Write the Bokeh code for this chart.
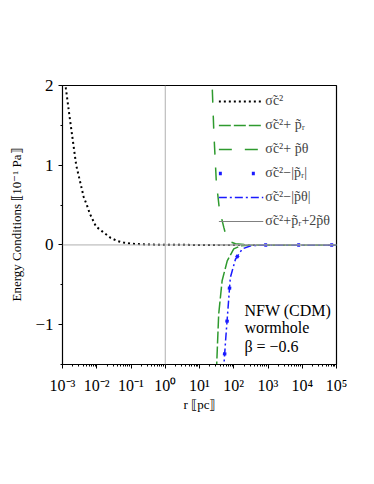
import numpy as np
from bokeh.plotting import figure
from bokeh.models import Span, Label, FixedTicker, CustomJSTickFormatter, Legend, LegendItem
from bokeh.embed import file_html
from bokeh.resources import INLINE

# ---- data (log10 r [pc], value [10^-1 Pa]) ----
sigma_logr = [-3.0, -2.9, -2.8, -2.67, -2.6, -2.49, -2.38, -2.28, -2.2, -2.02, -1.84, -1.6, -1.4, -1.22, -1.0, -0.5, 0.0, 1.0, 2.0, 3.0, 4.0, 5.0]
sigma_val = [2.35, 1.96, 1.63, 1.22, 1.0, 0.80, 0.60, 0.49, 0.39, 0.23, 0.17, 0.09, 0.05, 0.03, 0.015, 0.005, 0.002, 0.0, 0.0, 0.0, 0.0, 0.0]

ptheta_logr = [1.33, 1.37, 1.42, 1.49, 1.58, 1.71, 1.79, 1.9, 2.05, 2.3, 2.7, 3.0, 4.0, 5.0]
ptheta_val = [2.6, 2.0, 1.4, 0.80, 0.45, 0.22, 0.09, 0.04, 0.015, 0.005, 0.001, 0.0, 0.0, 0.0]

pr_logr = [1.48, 1.50, 1.56, 1.66, 1.81, 2.0, 2.2, 2.6, 3.0, 4.0, 5.0]
pr_val = [-1.8, -1.52, -0.87, -0.45, -0.20, -0.05, -0.01, 0.0, 0.0, 0.0, 0.0]

mpr_logr = [1.68, 1.71, 1.76, 1.83, 1.9, 2.05, 2.25, 2.5, 3.0, 4.0, 5.0]
mpr_val = [-1.8, -1.52, -1.21, -0.81, -0.41, -0.18, -0.05, -0.01, 0.0, 0.0, 0.0]

mpt_logr = [1.68, 1.71, 1.76, 1.83, 1.9, 2.05, 2.25, 2.5, 3.0, 4.0, 5.0]
mpt_val = [-1.8, -1.52, -1.21, -0.81, -0.41, -0.18, -0.05, -0.01, 0.0, 0.0, 0.0]

sum_logr = [1.5, 2.0, 3.0, 4.0, 5.0]
sum_val = [0.0, 0.0, 0.0, 0.0, 0.0]

x_ticks = [1e-3, 1e-2, 1e-1, 1e0, 1e1, 1e2, 1e3, 1e4, 1e5]
x_tick_labels = ["10\u207b\u00b3", "10\u207b\u00b2", "10\u207b\u00b9", "10\u2070", "10\u00b9", "10\u00b2", "10\u00b3", "10\u2074", "10\u2075"]
y_ticks = [-1, 0, 1, 2]
y_minor = [-1.5, -0.5, 0.5, 1.5]

labels = ["\u03c3\u0303c\u00b2",
          "\u03c3\u0303c\u00b2+ p\u0303\u1d63",
          "\u03c3\u0303c\u00b2+ p\u0303\u03b8",
          "\u03c3\u0303c\u00b2\u2212|p\u0303\u1d63|",
          "\u03c3\u0303c\u00b2\u2212|p\u0303\u03b8|",
          "\u03c3\u0303c\u00b2+p\u0303\u1d63+2p\u0303\u03b8"]

SERIF = "Liberation Serif"

p = figure(x_axis_type="log", x_range=(1e-3, 1e5), y_range=(-1.5, 2),
           output_backend="svg", toolbar_location=None,
           frame_width=274, frame_height=279,
           min_border_left=62, min_border_top=85, min_border_right=20, min_border_bottom=70)
p.grid.visible = False
p.outline_line_color = "black"
p.outline_line_width = 1.2
p.background_fill_color = "white"

p.add_layout(Span(location=0, dimension="width", line_color="#b0b0b0", line_width=1))
p.add_layout(Span(location=1, dimension="height", line_color="#b0b0b0", line_width=1))

def R(l):
    return [10 ** v for v in l]

r_sigma = p.line(R(sigma_logr), sigma_val, line_color="black", line_width=2, line_dash="2 3")
r_pr = p.line(R(pr_logr), pr_val, line_color="#2e9a2e", line_width=1.5, line_dash="12 3")
r_pt = p.line(R(ptheta_logr), ptheta_val, line_color="#2e9a2e", line_width=1.5, line_dash="13 13")
r_mpt = p.line(R(mpt_logr), mpt_val, line_color="#1a1aff", line_width=1.5, line_dash="8 3 2 3")
r_mpr = p.line(R(mpr_logr), mpr_val, line_color="#1a1aff", line_width=3.5, line_dash="3 30")
r_sum = p.line(R(sum_logr), sum_val, line_color="#808080", line_width=1)

legend = Legend(items=[LegendItem(label=labels[0], renderers=[r_sigma]),
                       LegendItem(label=labels[1], renderers=[r_pr]),
                       LegendItem(label=labels[2], renderers=[r_pt]),
                       LegendItem(label=labels[3], renderers=[r_mpr]),
                       LegendItem(label=labels[4], renderers=[r_mpt]),
                       LegendItem(label=labels[5], renderers=[r_sum])],
                location="top_right", margin=2, padding=4, spacing=4,
                glyph_width=45, glyph_height=20, label_height=20, label_standoff=2,
                label_text_font=SERIF, label_text_font_size="14px",
                background_fill_alpha=0, border_line_alpha=0)
p.add_layout(legend)

# axes
p.xaxis.ticker = FixedTicker(ticks=x_ticks, minor_ticks=[m * t for t in x_ticks[:-1] for m in range(2, 10)])
p.xaxis.formatter = CustomJSTickFormatter(args=dict(labs=x_tick_labels), code="""
    const e = Math.round(Math.log10(tick));
    return labs[e + 3];
""")
p.yaxis.ticker = FixedTicker(ticks=y_ticks, minor_ticks=y_minor)
p.yaxis.major_label_overrides = {-1: "\u22121", 0: "0", 1: "1", 2: "2"}
for ax in (p.xaxis[0], p.yaxis[0]):
    ax.axis_line_color = "black"
    ax.major_tick_line_color = "black"
    ax.minor_tick_line_color = "black"
    ax.major_tick_out = 4
    ax.major_tick_in = 0
    ax.minor_tick_out = 2
    ax.minor_tick_in = 0
    ax.major_label_text_font = SERIF
    ax.major_label_text_color = "black"
    ax.axis_label_text_font = SERIF
    ax.axis_label_text_font_size = "13px"
    ax.axis_label_text_font_style = "normal"
    ax.axis_label_text_color = "black"
p.xaxis.major_label_text_font_size = "16px"
p.yaxis.major_label_text_font_size = "17px"
p.xaxis.major_label_standoff = 8

p.xaxis.axis_label = "r \u27e6pc\u27e7"
p.yaxis.axis_label = "Energy Conditions \u27e610\u207b\u00b9 Pa\u27e7"
p.xaxis.axis_label_standoff = 0
p.yaxis.axis_label_standoff = 8

# annotations
ann_text = ["NFW (CDM)", "wormhole", "\u03b2 = \u22120.6"]
ann_y = [-0.82, -1.04, -1.27]
for t, yv in zip(ann_text, ann_y):
    p.add_layout(Label(x=205, y=yv, text=t, text_font=SERIF, text_font_size="16px",
                       text_baseline="middle", text_color="black"))

open("out.html", "w").write(file_html(p, INLINE))
